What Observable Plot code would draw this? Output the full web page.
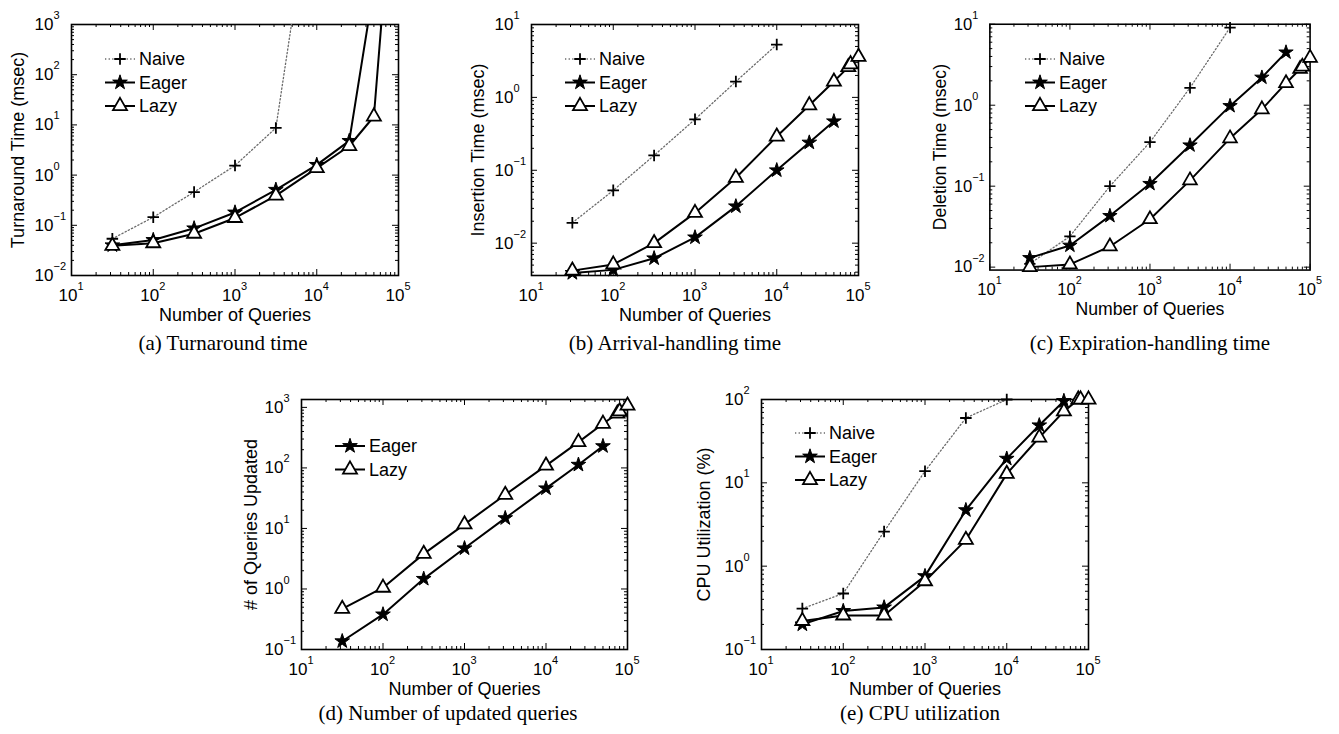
<!DOCTYPE html>
<html><head><meta charset="utf-8">
<script src="https://cdn.jsdelivr.net/npm/d3@7"></script>
<script src="https://cdn.jsdelivr.net/npm/@observablehq/plot@0.6"></script>
<style>
body{margin:0;background:#fff;}
#root{position:relative;width:1339px;height:734px;overflow:hidden;background:#fff;font-family:"Liberation Sans",Arial,sans-serif;}
.panel{position:absolute;}
.panel svg{overflow:visible;}
.cap{position:absolute;font-family:"Liberation Serif","Times New Roman",serif;font-size:21px;transform:translate(-50%,-50%);white-space:nowrap;color:#000;}
.leg{position:absolute;overflow:visible;}
</style></head><body><div id="root"></div>
<script>
// ---------- data ----------
const queries = [31.6, 100, 316, 1000, 3162, 10000, 25000, 50000, 75000, 80000, 100000];

// (a) Turnaround time (msec)
const aNaive = [0.054, 0.145, 0.46, 1.55, 8.7, 2.2e6];
const aEager = [0.040, 0.051, 0.087, 0.18, 0.51, 1.6, 4.8, 5600];
const aLazy  = [0.039, 0.044, 0.068, 0.14, 0.39, 1.38, 3.8, 14.7, 55000];

// (b) Insertion time (msec)
const bNaive = [0.019, 0.053, 0.16, 0.50, 1.65, 5.3];
const bEager = [0.0039, 0.0043, 0.0062, 0.012, 0.032, 0.10, 0.24, 0.47];
const bLazy  = [0.0042, 0.0051, 0.010, 0.026, 0.079, 0.29, 0.78, 1.65, 2.6, 2.85, 3.6];

// (c) Deletion time (msec)
const cNaive = [0.011, 0.024, 0.10, 0.35, 1.64, 9.1];
const cEager = [0.013, 0.0185, 0.043, 0.107, 0.32, 0.98, 2.2, 4.5];
const cLazy  = [0.010, 0.0108, 0.018, 0.039, 0.118, 0.39, 0.89, 1.87, 2.8, 3.0, 3.85];

// (d) Number of queries updated
const dEager = [0.137, 0.38, 1.47, 4.7, 14.8, 46, 113, 229];
const dLazy  = [0.47, 1.05, 3.8, 11.7, 36, 109, 267, 537, 790, 860, 1070];

// (e) CPU utilization (%)
const eNaive = [0.31, 0.47, 2.6, 13.8, 60, 100];
const eEager = [0.2, 0.29, 0.32, 0.76, 4.7, 19.5, 49, 96];
const eLazy  = [0.22, 0.256, 0.256, 0.66, 2.07, 12.8, 35, 72, 100, 100, 100];

const xExps = [1, 2, 3, 4, 5];
const xLabel = "Number of Queries";
const captions = ["(a) Turnaround time", "(b) Arrival-handling time", "(c) Expiration-handling time", "(d) Number of updated queries", "(e) CPU utilization"];

// ---------- styles ----------
const sty = {
  Naive: {line: {stroke: "#6a6a6a", strokeWidth: 1.3, strokeDasharray: "1.3,2.3"},
          dot: {symbol: d3.symbolPlus || "plus", fill: "none", stroke: "black", strokeWidth: 1.8, r: 3.8}},
  Eager: {line: {stroke: "black", strokeWidth: 2},
          dot: {symbol: d3.symbolStar, fill: "black", stroke: "black", strokeWidth: 1, r: 4.6}},
  Lazy:  {line: {stroke: "black", strokeWidth: 2},
          dot: {symbol: d3.symbolTriangle, fill: "white", stroke: "black", strokeWidth: 1.8, r: 5.2}}
};

const supText = e => (e < 0 ? "\u2212" + (-e) : String(e));

function minorTicks(lo, hi) {
  const out = [];
  for (let e = Math.floor(Math.log10(lo)); e <= Math.ceil(Math.log10(hi)); e++)
    for (let k = 2; k <= 9; k++) { const v = k * 10 ** e; if (v > lo && v < hi) out.push(v); }
  return out;
}

const root = document.getElementById("root");

function panel(o) {
  const mL = 80, mT = 12, mR = 30, mB = 60;
  const W = mL + o.w + mR, H = mT + o.h + mB;
  const xDom = [10, 1e5];
  const xMaj = xExps.map(e => 10 ** e), xMin = minorTicks(...xDom);
  const yMaj = o.yExps.map(e => 10 ** e), yMin = minorTicks(...o.yDom);
  const marks = [];
  const inH = o.h, inW = o.w;
  // inward ticks (bottom/top, left/right)
  for (const [vals, len] of [[xMaj, 6], [xMin, 3]]) {
    marks.push(Plot.tickX(vals, {x: d => d, insetTop: inH - len, stroke: "black", strokeWidth: 1}));
    marks.push(Plot.tickX(vals, {x: d => d, insetBottom: inH - len, stroke: "black", strokeWidth: 1}));
  }
  for (const [vals, len] of [[yMaj, 6], [yMin, 3]]) {
    marks.push(Plot.tickY(vals, {y: d => d, insetRight: inW - len, stroke: "black", strokeWidth: 1}));
    marks.push(Plot.tickY(vals, {y: d => d, insetLeft: inW - len, stroke: "black", strokeWidth: 1}));
  }
  marks.push(Plot.frame({stroke: "black", strokeWidth: 1.6}));
  // tick labels
  marks.push(Plot.text(xExps, {x: e => 10 ** e, text: () => "10", frameAnchor: "bottom", textAnchor: "end", lineAnchor: "middle", dx: 6, dy: 20, fontSize: 17, fill: "black"}));
  marks.push(Plot.text(xExps, {x: e => 10 ** e, text: supText, frameAnchor: "bottom", textAnchor: "start", lineAnchor: "middle", dx: 6, dy: 11, fontSize: 11, fill: "black"}));
  marks.push(Plot.text(o.yExps, {y: e => 10 ** e, text: () => "10", frameAnchor: "left", textAnchor: "end", lineAnchor: "middle", dx: -18, fontSize: 17, fill: "black"}));
  marks.push(Plot.text(o.yExps, {y: e => 10 ** e, text: supText, frameAnchor: "left", textAnchor: "start", lineAnchor: "middle", dx: -18, dy: -9, fontSize: 11, fill: "black"}));
  // axis titles
  marks.push(Plot.text([xLabel], {text: d => d, frameAnchor: "bottom", textAnchor: "middle", lineAnchor: "middle", dy: 40, fontSize: 18, fill: "black"}));
  marks.push(Plot.text([o.yLabel], {text: d => d, frameAnchor: "left", textAnchor: "middle", lineAnchor: "middle", dx: -o.yLabelDx, rotate: -90, fontSize: 18, fill: "black"}));
  // series
  for (const s of o.series) {
    const rows = s.values.map((y, i) => ({x: queries[i], y}));
    marks.push(Plot.line(rows, {x: "x", y: "y", clip: true, ...sty[s.name].line}));
  }
  for (const s of o.series) {
    const rows = s.values.map((y, i) => ({x: queries[i], y})).filter(d => d.y <= o.yDom[1] && d.y >= o.yDom[0]);
    marks.push(Plot.dot(rows, {x: "x", y: "y", ...sty[s.name].dot}));
  }
  const chart = Plot.plot({
    width: W, height: H, marginLeft: mL, marginRight: mR, marginTop: mT, marginBottom: mB,
    x: {type: "log", domain: xDom, axis: null},
    y: {type: "log", domain: o.yDom, axis: null},
    style: {fontFamily: "'Liberation Sans', Arial, sans-serif", background: "transparent", overflow: "visible", color: "black"},
    marks
  });
  const div = document.createElement("div");
  div.className = "panel";
  div.style.left = (o.left - mL) + "px";
  div.style.top = (o.top - mT) + "px";
  div.appendChild(chart);
  root.appendChild(div);

  // legend (inside the frame, top-left)
  const leg = d3.select(root).append("svg").attr("class", "leg")
    .style("left", o.left + "px").style("top", o.top + "px")
    .attr("width", 200).attr("height", 120);
  o.series.forEach((s, i) => {
    const y = o.legTop + i * 23.5;
    const st = sty[s.name];
    leg.append("line").attr("x1", 34).attr("x2", 64).attr("y1", y).attr("y2", y)
      .attr("stroke", st.line.stroke).attr("stroke-width", st.line.strokeWidth)
      .attr("stroke-dasharray", st.line.strokeDasharray || null);
    leg.append("path").attr("transform", `translate(49,${y})`)
      .attr("d", d3.symbol(st.dot.symbol, Math.PI * st.dot.r * st.dot.r)())
      .attr("fill", st.dot.fill).attr("stroke", st.dot.stroke).attr("stroke-width", st.dot.strokeWidth);
    leg.append("text").attr("x", 68).attr("y", y).attr("dy", "0.36em")
      .attr("font-size", 18).attr("font-family", "'Liberation Sans', Arial, sans-serif").text(s.name);
  });
}

panel({left: 71, top: 24, w: 327, h: 251, yDom: [0.01, 1000], yExps: [-2, -1, 0, 1, 2, 3],
  yLabel: "Turnaround Time (msec)", yLabelDx: 53, legTop: 35,
  series: [{name: "Naive", values: aNaive}, {name: "Eager", values: aEager}, {name: "Lazy", values: aLazy}]});
panel({left: 531, top: 24, w: 327, h: 251, yDom: [0.0036, 10], yExps: [-2, -1, 0, 1],
  yLabel: "Insertion Time (msec)", yLabelDx: 53, legTop: 35,
  series: [{name: "Naive", values: bNaive}, {name: "Eager", values: bEager}, {name: "Lazy", values: bLazy}]});
panel({left: 991, top: 24, w: 327, h: 251, yDom: [0.0092, 10], yExps: [-2, -1, 0, 1],
  yLabel: "Deletion Time (msec)", yLabelDx: 51, legTop: 35,
  series: [{name: "Naive", values: cNaive}, {name: "Eager", values: cEager}, {name: "Lazy", values: cLazy}]});
panel({left: 301, top: 399, w: 326, h: 250, yDom: [0.1, 1350], yExps: [-1, 0, 1, 2, 3],
  yLabel: "# of Queries Updated", yLabelDx: 50, legTop: 47,
  series: [{name: "Eager", values: dEager}, {name: "Lazy", values: dLazy}]});
panel({left: 761, top: 399, w: 327, h: 250, yDom: [0.1, 100], yExps: [-1, 0, 1, 2],
  yLabel: "CPU Utilization (%)", yLabelDx: 57, legTop: 34,
  series: [{name: "Naive", values: eNaive}, {name: "Eager", values: eEager}, {name: "Lazy", values: eLazy}]});

// captions
const capPos = [[223, 343], [675, 343], [1150, 343], [448, 713], [920, 713]];
captions.forEach((t, i) => {
  const c = document.createElement("div");
  c.className = "cap";
  c.textContent = t;
  c.style.left = capPos[i][0] + "px";
  c.style.top = capPos[i][1] + "px";
  root.appendChild(c);
});
</script>
</body></html>
